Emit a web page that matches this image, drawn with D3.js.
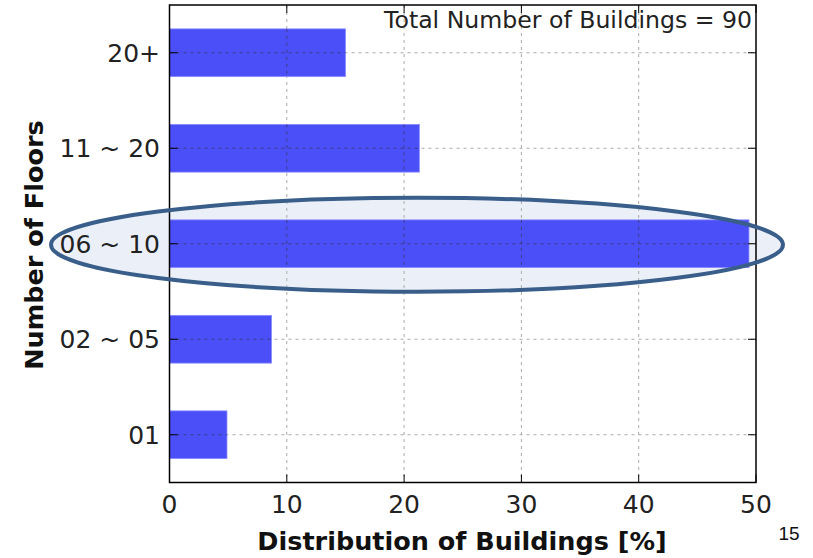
<!DOCTYPE html>
<html><head><meta charset="utf-8">
<script src="https://cdn.jsdelivr.net/npm/d3@7"></script>
<style>body{margin:0;background:#fff}svg{display:block}</style>
</head><body>
<svg id="c" width="813" height="558"></svg>
<script>
const categories = ["01", "02 ~ 05", "06 ~ 10", "11 ~ 20", "20+"];
const values = [4.9, 8.7, 49.4, 21.3, 15.0];
const xTicks = [0, 10, 20, 30, 40, 50];
const annotation = "Total Number of Buildings = 90";
const xLabel = "Distribution of Buildings [%]";
const yLabel = "Number of Floors";
const highlighted = "06 ~ 10";
const pageNumber = "15";

const svg = d3.select("#c");
const L = 169.5, R = 756, T = 5, B = 482.5;
const x = d3.scaleLinear().domain([0, 50]).range([L, R]);
const y = d3.scaleLinear().domain([-0.5, categories.length - 0.5]).range([B, T]);
const font = "DejaVu Sans, sans-serif";

// highlight ellipse fill (behind)
const cy = y(categories.indexOf(highlighted));
svg.append("ellipse").attr("cx", 417).attr("cy", cy + 1).attr("rx", 366).attr("ry", 47)
  .attr("fill", "#ebf0f8");

// grid
const g = svg.append("g");
g.selectAll(".gx").data(xTicks.slice(1, -1)).join("line")
  .attr("x1", d => x(d)).attr("x2", d => x(d)).attr("y1", T).attr("y2", B)
  .attr("stroke", "#aaa").attr("stroke-width", 1).attr("stroke-dasharray", "3,4");
g.selectAll(".gy").data(categories).join("line")
  .attr("x1", L).attr("x2", R).attr("y1", (d, i) => y(i)).attr("y2", (d, i) => y(i))
  .attr("stroke", "#aaa").attr("stroke-width", 1).attr("stroke-dasharray", "3,4");

// bars
svg.selectAll(".bar").data(values).join("rect")
  .attr("x", x(0)).attr("y", (d, i) => y(i + 0.25))
  .attr("width", d => x(d) - x(0)).attr("height", y(0) - y(0.5))
  .attr("fill", "#4b4ff8").attr("stroke", "#8a8cff").attr("stroke-width", 0.8);

// grid through bars (dark dotted)
const g2 = svg.append("g");
g2.selectAll(".gy2").data(values).join("line")
  .attr("x1", L).attr("x2", (d) => x(d)).attr("y1", (d, i) => y(i)).attr("y2", (d, i) => y(i))
  .attr("stroke", "#333").attr("stroke-opacity", 0.6).attr("stroke-dasharray", "3,4");
g2.selectAll(".gx2").data(xTicks.slice(1, -1)).join("g").each(function (t) {
  values.forEach((v, i) => {
    if (v > t) d3.select(this).append("line")
      .attr("x1", x(t)).attr("x2", x(t)).attr("y1", y(i + 0.25)).attr("y2", y(i - 0.25))
      .attr("stroke", "#333").attr("stroke-opacity", 0.6).attr("stroke-dasharray", "3,4");
  });
});

// frame
svg.append("rect").attr("x", L).attr("y", T).attr("width", R - L).attr("height", B - T)
  .attr("fill", "none").attr("stroke", "#000").attr("stroke-width", 1.5);

// ticks (inward)
const tk = 8;
xTicks.forEach(t => {
  svg.append("line").attr("x1", x(t)).attr("x2", x(t)).attr("y1", B).attr("y2", B - tk).attr("stroke", "#000");
  svg.append("line").attr("x1", x(t)).attr("x2", x(t)).attr("y1", T).attr("y2", T + tk).attr("stroke", "#000");
});
categories.forEach((c, i) => {
  svg.append("line").attr("x1", L).attr("x2", L + tk).attr("y1", y(i)).attr("y2", y(i)).attr("stroke", "#000");
  svg.append("line").attr("x1", R).attr("x2", R - tk).attr("y1", y(i)).attr("y2", y(i)).attr("stroke", "#000");
});

// tick labels
svg.selectAll(".xt").data(xTicks).join("text")
  .attr("x", d => x(d)).attr("y", 513).attr("text-anchor", "middle")
  .attr("font-family", font).attr("font-size", 25).attr("fill", "#222").text(d => d);
svg.selectAll(".yt").data(categories).join("text")
  .attr("x", 160).attr("y", (d, i) => y(i) + 9).attr("text-anchor", "end")
  .attr("font-family", font).attr("font-size", 25).attr("fill", "#222").text(d => d);

// annotation
svg.append("text").attr("x", 752).attr("y", 28).attr("text-anchor", "end")
  .attr("font-family", font).attr("font-size", 23.6).attr("fill", "#222").text(annotation);

// axis labels
svg.append("text").attr("x", 462).attr("y", 550).attr("text-anchor", "middle")
  .attr("font-family", font).attr("font-weight", "bold").attr("font-size", 25.5).attr("fill", "#111").text(xLabel);
svg.append("text").attr("transform", `translate(43,245) rotate(-90)`).attr("text-anchor", "middle")
  .attr("font-family", font).attr("font-weight", "bold").attr("font-size", 25.5).attr("fill", "#111").text(yLabel);

// ellipse outline on top
svg.append("ellipse").attr("cx", 417).attr("cy", cy + 1).attr("rx", 366).attr("ry", 47)
  .attr("fill", "none").attr("stroke", "#3a5e8a").attr("stroke-width", 4);

// page number
svg.append("text").attr("x", 789).attr("y", 540).attr("text-anchor", "middle")
  .attr("font-family", "Liberation Sans, sans-serif").attr("font-size", 19).attr("fill", "#111").text(pageNumber);
</script>
</body></html>
